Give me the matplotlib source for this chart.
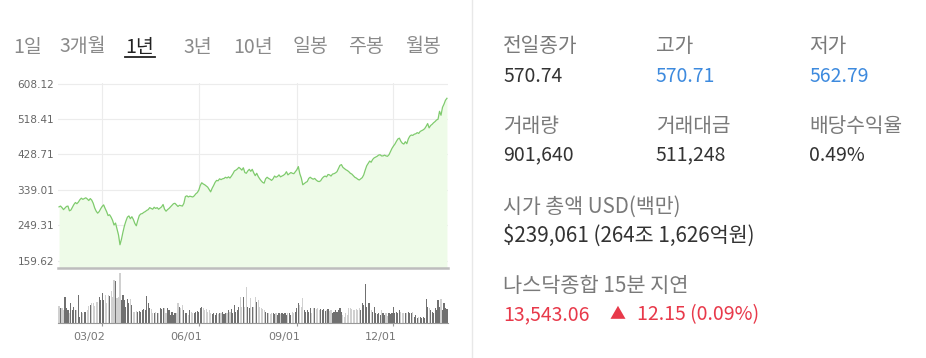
import matplotlib
matplotlib.use("Agg")
import matplotlib.pyplot as plt
from matplotlib.lines import Line2D
import numpy as np
import pandas as pd

plt.rcParams['font.family'] = ['Noto Sans CJK KR', 'DejaVu Sans']

# daily closes, 2020-01-21 .. 2021-01-20 (business days)
prices = [
    296, 298, 294, 289, 293, 297, 298, 286, 288, 295,
    302, 307, 304, 308, 314, 318, 315, 317, 319, 316,
    312, 317, 313, 305, 293, 285, 280, 284, 291, 297,
    301, 292, 284, 274, 276, 270, 262, 250, 255, 240,
    225, 200, 214, 232, 248, 260, 270, 273, 266, 271,
    264, 254, 248, 262, 274, 278, 279, 282, 284, 287,
    289, 294, 292, 290, 295, 292, 294, 290, 293, 296,
    302, 290, 285, 289, 292, 296, 300, 304, 305, 301,
    297, 300, 299, 298, 305, 322, 324, 321, 323, 322,
    321, 324, 329, 332, 338, 350, 357, 354, 352, 349,
    346, 340, 334, 343, 350, 358, 363, 362, 367, 365,
    367, 368, 371, 369, 372, 369, 374, 380, 387, 389,
    392, 396, 393, 389, 395, 383, 381, 387, 391, 386,
    391, 382, 375, 381, 373, 367, 362, 358, 356, 367,
    371, 368, 366, 363, 367, 374, 371, 373, 377, 372,
    374, 376, 379, 385, 377, 380, 383, 381, 380, 385,
    390, 398, 380, 369, 352, 355, 358, 360, 368, 371,
    368, 366, 368, 364, 361, 360, 362, 368, 372, 374,
    372, 378, 377, 374, 379, 380, 382, 385, 393, 401,
    403, 396, 393, 390, 388, 385, 381, 379, 375, 371,
    369, 366, 364, 367, 370, 377, 389, 400, 406, 412,
    409, 416, 420, 422, 424, 427, 428, 425, 425, 427,
    425, 424, 428, 436, 444, 450, 455, 462, 468, 470,
    462, 457, 455, 461, 456, 468, 475, 478, 477, 480,
    481, 484, 482, 487, 489, 491, 494, 500, 507, 496,
    502, 505, 509, 512, 516, 518, 538, 528, 548, 556,
    566, 571,
]

# daily volume, thousands of shares
volumes = [
    780, 675, 675, 600, 1170, 675, 600, 450, 930, 600,
    750, 600, 600, 1275, 300, 525, 480, 525, 525, 600,
    780, 825, 900, 930, 780, 975, 975, 1200, 1050, 1380,
    1050, 1275, 900, 1275, 1230, 1470, 1200, 1950, 1920, 1125,
    1200, 2250, 1050, 1275, 1050, 750, 1080, 900, 1080, 825,
    525, 525, 570, 525, 570, 525, 600, 630, 600, 1230,
    900, 675, 630, 450, 480, 525, 450, 480, 675, 630,
    705, 675, 450, 675, 600, 375, 525, 375, 450, 480,
    900, 750, 675, 825, 600, 450, 480, 375, 600, 525,
    450, 480, 525, 570, 525, 675, 720, 675, 600, 630,
    525, 600, 450, 420, 480, 375, 450, 420, 480, 450,
    525, 420, 480, 450, 600, 525, 630, 450, 825, 525,
    600, 750, 1170, 750, 1170, 750, 1650, 750, 675, 1125,
    750, 750, 1200, 975, 1050, 750, 675, 630, 600, 525,
    450, 480, 420, 450, 450, 420, 480, 375, 450, 420,
    480, 420, 450, 375, 450, 480, 375, 525, 450, 525,
    675, 900, 825, 750, 1125, 600, 525, 600, 525, 675,
    480, 675, 675, 630, 675, 600, 630, 600, 630, 570,
    600, 630, 570, 600, 480, 525, 600, 525, 600, 675,
    525, 375, 300, 450, 375, 675, 675, 630, 600, 600,
    630, 600, 675, 600, 900, 825, 1770, 750, 900, 930,
    600, 525, 750, 450, 405, 450, 375, 600, 450, 375,
    450, 330, 450, 420, 450, 750, 450, 525, 450, 600,
    525, 480, 450, 480, 450, 525, 450, 480, 525, 300,
    375, 225, 270, 300, 225, 300, 225, 1080, 750, 675,
    600, 525, 450, 675, 600, 1050, 750, 1080, 600, 900,
    675, 630,
]

y_ticks = [159.62, 249.31, 339.01, 428.71, 518.41, 608.12]
x_tick_dates = ['2020-03-02', '2020-06-01', '2020-09-01', '2020-12-01']
x_tick_labels = ['03/02', '06/01', '09/01', '12/01']

tabs = ['1일', '3개월', '1년', '3년', '10년', '일봉', '주봉', '월봉']
tab_x = [13, 59, 125, 183, 233, 293, 348, 405]

dates = pd.bdate_range('2020-01-21', periods=len(prices))
idx = np.arange(len(prices))
tick_idx = [int(dates.get_indexer([pd.Timestamp(d)])[0]) for d in x_tick_dates]

W, H = 926, 358
fig = plt.figure(figsize=(W / 100, H / 100), dpi=100)


def box(x0, y0, x1, y1):
    return [x0 / W, 1 - y1 / H, (x1 - x0) / W, (y1 - y0) / H]


def fx(x):
    return x / W


def fy(y):
    return 1 - y / H


# price chart
ax = fig.add_axes(box(58.3, 83, 447.7, 267.7))
ax.fill_between(idx, prices, 141.9, color='#eefbe8', lw=0)
ax.plot(idx, prices, color='#7fcb6d', lw=0.9)
ax.set_xlim(-0.5, len(prices) - 0.5)
ax.set_ylim(141.9, 609.7)
ax.set_yticks(y_ticks)
ax.set_yticklabels(['%.2f' % v for v in y_ticks], family='DejaVu Sans',
                   fontsize=7.6, color='#666666')
ax.set_xticks(tick_idx)
ax.set_xticklabels([])
ax.tick_params(length=0, pad=3)
ax.grid(True, color='#ececec', lw=0.8)
ax.set_axisbelow(True)
for s in ['top', 'left', 'right']:
    ax.spines[s].set_visible(False)
ax.spines['bottom'].set_color('#bdbdbd')
ax.spines['bottom'].set_linewidth(1.8)

# volume chart
av = fig.add_axes(box(58.3, 273.3, 447.7, 323.3))
vcolors = ['#d0d0d0'] + ['#d0d0d0' if prices[i] < prices[i - 1] else '#707070'
                         for i in range(1, len(prices))]
av.bar(idx, volumes, width=0.75, color=vcolors, lw=0)
av.set_xlim(-0.5, len(prices) - 0.5)
av.set_ylim(0, max(volumes))
av.set_yticks([])
av.set_xticks(tick_idx)
av.set_xticklabels([])
av.tick_params(axis='x', length=2, color='#999999', width=0.8)
for s in ['top', 'left', 'right']:
    av.spines[s].set_visible(False)
av.spines['bottom'].set_color('#999999')
av.spines['bottom'].set_linewidth(0.8)
for t, lab in zip(tick_idx, x_tick_labels):
    av.annotate(lab, xy=(t, 0), xycoords=('data', 'axes fraction'),
                xytext=(3, -14), textcoords='offset pixels', ha='right',
                va='center', fontsize=8, color='#777777', family='DejaVu Sans')

# period tabs
for lab, x in zip(tabs, tab_x):
    fig.text(fx(x), fy(47), lab, fontsize=14, va='center', ha='left',
             color='#222222' if lab == '1년' else '#8a8a8a')
fig.add_artist(Line2D([fx(125), fx(155)], [fy(57), fy(57)], color='#222222', lw=1.3))

# separator
fig.add_artist(Line2D([fx(472), fx(472)], [0, 1], color='#e8e8e8', lw=1))

# summary panel
label_c = '#7a7a7a'
value_c = '#333333'
blue = '#3d8ade'
red = '#e8394a'
cols = [503, 656, 809]
row1 = [('전일종가', '570.74', value_c), ('고가', '570.71', blue), ('저가', '562.79', blue)]
row2 = [('거래량', '901,640', value_c), ('거래대금', '511,248', value_c), ('배당수익율', '0.49%', value_c)]
for (lab, val, c), x in zip(row1, cols):
    fig.text(fx(x), fy(47), lab, fontsize=14.6, color=label_c, va='center')
    fig.text(fx(x), fy(77), val, fontsize=14, color=c, va='center')
for (lab, val, c), x in zip(row2, cols):
    fig.text(fx(x), fy(126), lab, fontsize=14.6, color=label_c, va='center')
    fig.text(fx(x), fy(155), val, fontsize=14, color=c, va='center')

fig.text(fx(503), fy(207), '시가 총액 USD(백만)', fontsize=14.8, color=label_c, va='center')
fig.text(fx(503), fy(236), '$239,061 (264조 1,626억원)', fontsize=14.9, color=value_c, va='center')
fig.text(fx(503), fy(286), '나스닥종합 15분 지연', fontsize=15, color=label_c, va='center')
fig.text(fx(503), fy(315), '13,543.06', fontsize=14, color=red, va='center')
fig.text(fx(610), fy(315), '▲', fontsize=11.5, color=red, va='center')
fig.text(fx(637), fy(315), '12.15 (0.09%)', fontsize=14, color=red, va='center')

fig.savefig('out.png', dpi=100)
